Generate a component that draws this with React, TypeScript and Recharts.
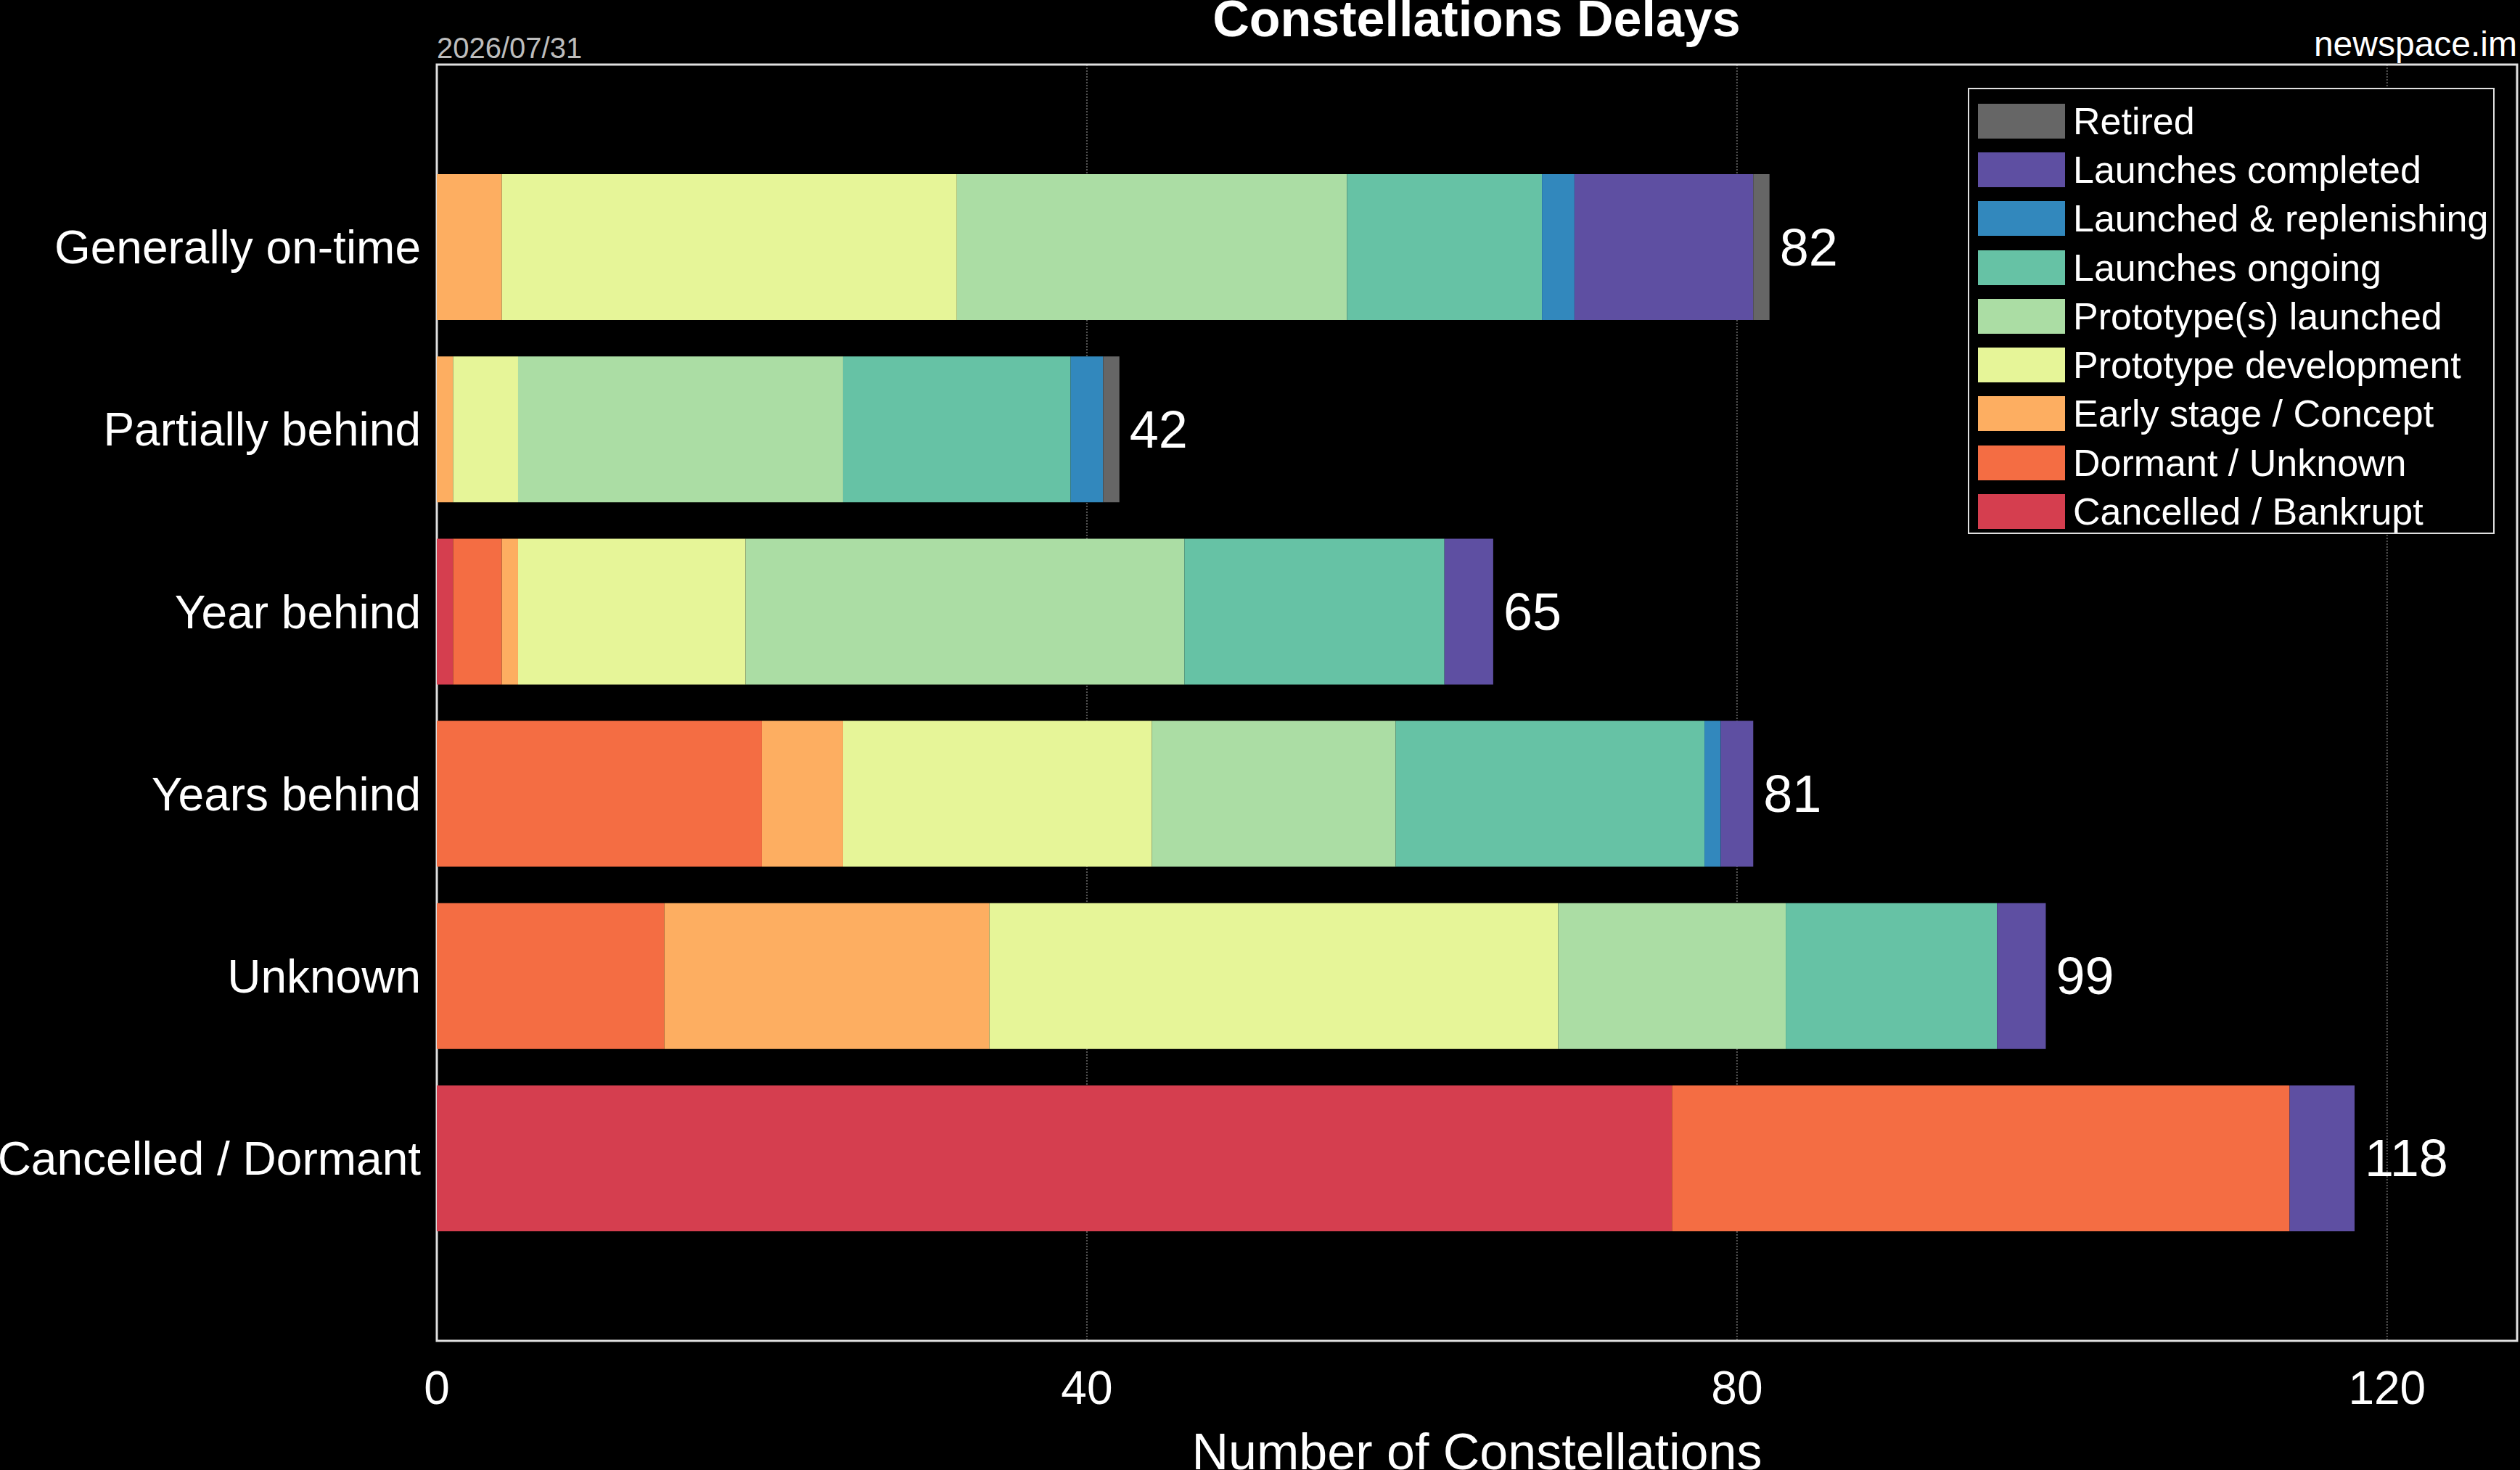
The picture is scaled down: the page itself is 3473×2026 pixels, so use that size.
import { BarChart, Bar, XAxis, YAxis, CartesianGrid, Legend, LabelList, Customized } from 'recharts';

const categories = ['Generally on-time', 'Partially behind', 'Year behind', 'Years behind', 'Unknown', 'Cancelled / Dormant'];

const cancelled = [0, 0, 1, 0, 0, 76];
const dormant = [0, 0, 3, 20, 14, 38];
const earlyStage = [4, 1, 1, 5, 20, 0];
const protoDev = [28, 4, 14, 19, 35, 0];
const protoLaunched = [24, 20, 27, 15, 14, 0];
const launchesOngoing = [12, 14, 16, 19, 13, 0];
const replenishing = [2, 2, 0, 1, 0, 0];
const launchesCompleted = [11, 0, 3, 2, 3, 4];
const retired = [1, 1, 0, 0, 0, 0];

const xTicks = [0, 40, 80, 120];

// stacking order, left to right
const series = [
    { key: 'cancelled', name: 'Cancelled / Bankrupt', values: cancelled },
    { key: 'dormant', name: 'Dormant / Unknown', values: dormant },
    { key: 'early', name: 'Early stage / Concept', values: earlyStage },
    { key: 'protoDev', name: 'Prototype development', values: protoDev },
    { key: 'protoLaunched', name: 'Prototype(s) launched', values: protoLaunched },
    { key: 'ongoing', name: 'Launches ongoing', values: launchesOngoing },
    { key: 'replenishing', name: 'Launched & replenishing', values: replenishing },
    { key: 'completed', name: 'Launches completed', values: launchesCompleted },
    { key: 'retired', name: 'Retired', values: retired },
];

const COLORS: Record<string, string> = {
    cancelled: '#d53e4f',
    dormant: '#f46d43',
    early: '#fdae61',
    protoDev: '#e6f598',
    protoLaunched: '#abdda4',
    ongoing: '#66c2a5',
    replenishing: '#3288bd',
    completed: '#5e4fa2',
    retired: '#666666',
};

const data = categories.map((name, i) => {
    const row: Record<string, any> = { name };
    let total = 0;
    series.forEach(s => {
        row[s.key] = s.values[i];
        total += s.values[i];
    });
    row.total = total;
    return row;
});

const FONT = '"Liberation Sans", Arial, sans-serif';
const W = 3473;
const H = 2026;

// total goes after the last non-empty segment of each row (row found by its name)
const makeTotalLabel = (j: number) => (props: any) => {
    const { x, y, width, height, value } = props;
    const i = categories.indexOf(value);
    if (i < 0) return null;
    const isLast = series[j].values[i] > 0 && series.slice(j + 1).every(s => s.values[i] === 0);
    if (!isLast) return null;
    return (
        <text x={Number(x) + Number(width) + 14} y={Number(y) + Number(height) / 2} fill="#fff"
            fontSize={72} fontFamily={FONT} dominantBaseline="central">{data[i].total}</text>
    );
};

const LegendBox = () => (
    <div style={{ boxSizing: 'border-box', width: 726, height: 615, border: '2px solid #e0e0e0', background: '#000', padding: '10px 12px 0 12px', fontFamily: FONT }}>
        {[...series].reverse().map(s => (
            <div key={s.key} style={{ display: 'flex', alignItems: 'center', height: 67.3 }}>
                <div style={{ width: 120, height: 48, flexShrink: 0, background: COLORS[s.key], marginRight: 11 }} />
                <span style={{ color: '#fff', fontSize: 52, lineHeight: '52px', whiteSpace: 'nowrap' }}>{s.name}</span>
            </div>
        ))}
    </div>
);

const Decor = () => (
    <g fontFamily={FONT}>
        <rect x={602} y={89} width={2867} height={1759} fill="none" stroke="#e0e0e0" strokeWidth={3} />
        <text x={2035} y={50} textAnchor="middle" fill="#fff" fontSize={70} fontWeight="bold">Constellations Delays</text>
        <text x={602} y={80} fill="#bdbdbd" fontSize={40}>2026/07/31</text>
        <text x={3469} y={77} textAnchor="end" fill="#fff" fontSize={48}>newspace.im</text>
    </g>
);

export default function App() {
    return (
        <div style={{ width: W, height: H, background: '#000', fontFamily: FONT, position: 'relative' }}>
            <style>{'body{margin:0;background:#000;}'}</style>
            <BarChart width={W} height={H} data={data} layout="vertical"
                margin={{ top: 89, right: 4, bottom: 0, left: 0 }} barCategoryGap="10%">
                <CartesianGrid horizontal={false} stroke="#555" strokeDasharray="2 2" strokeWidth={2} />
                <XAxis type="number" domain={[0, 128]} ticks={xTicks} allowDataOverflow height={178}
                    axisLine={false} tickLine={false} tickSize={6} tickMargin={36}
                    tick={{ fill: '#fff', fontSize: 64, fontFamily: FONT }}
                    label={{ value: 'Number of Constellations', position: 'insideBottom', offset: 1, fill: '#fff', fontSize: 70, fontFamily: FONT }} />
                <YAxis type="category" dataKey="name" width={602} axisLine={false} tickLine={false}
                    tickSize={0} tickMargin={22} padding={{ top: 126, bottom: 126 }}
                    tick={{ fill: '#fff', fontSize: 64, fontFamily: FONT }} />
                {series.map((s, j) => (
                    <Bar key={s.key} dataKey={s.key} name={s.name} stackId="a" fill={COLORS[s.key]} isAnimationActive={false}>
                        <LabelList dataKey="name" content={makeTotalLabel(j)} />
                    </Bar>
                ))}
                <Legend layout="vertical" align="center" verticalAlign="middle" content={LegendBox}
                    wrapperStyle={{ position: 'absolute', left: 2712, top: 121, right: 'auto', bottom: 'auto', width: 'auto', height: 'auto' }} />
                <Customized component={Decor} />
            </BarChart>
        </div>
    );
}
